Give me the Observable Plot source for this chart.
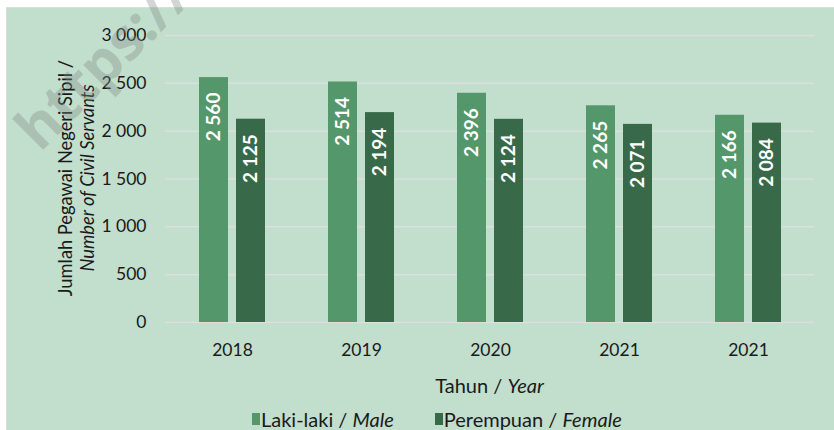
<!DOCTYPE html>
<html>
<head>
<meta charset="utf-8">
<script src="https://cdn.jsdelivr.net/npm/d3@7"></script>
<script src="https://cdn.jsdelivr.net/npm/@observablehq/plot@0.6"></script>
<style>
  html, body { margin: 0; padding: 0; background: #ffffff; }
  #wrap { position: relative; width: 834px; height: 430px; overflow: hidden; font-family: Lato, sans-serif; }
  #bg { position: absolute; left: 6px; top: 7px; right: 0; bottom: 0; background: #c2decd; border-top: 1.5px solid #dcdcdc; border-left: 1.5px solid #dcdcdc; }
  #chart { position: absolute; left: 0; top: 0; }
  #legend { position: absolute; left: 252px; top: 407px; display: flex; align-items: center; font-size: 20px; color: #1a1a1a; white-space: nowrap; }
  .item { display: flex; align-items: center; }
  .sw { width: 8px; height: 12px; margin-right: 1px; }
</style>
</head>
<body>
<div id="wrap">
  <div id="bg"></div>
  <div id="chart"></div>
  <div id="legend"></div>
</div>
<script>
const years = ["2018", "2019", "2020", "2021", "2021"];
const male = [2560, 2514, 2396, 2265, 2166];
const female = [2125, 2194, 2124, 2071, 2084];
const yTicks = [0, 500, 1000, 1500, 2000, 2500, 3000];
const seriesNames = ["Laki-laki / ", "Perempuan / "];
const seriesItalic = ["Male", "Female"];
const colors = ["#53976b", "#386a4a"];

const locale = d3.formatLocale({decimal: ",", thousands: " ", grouping: [3], currency: ["", ""]});
const fmt = locale.format(",d");

const data = years.map((y, i) => ({i, year: y, male: male[i], female: female[i]}));

const plot = Plot.plot({
  width: 834,
  height: 395,
  marginLeft: 165,
  marginRight: 20,
  marginTop: 35,
  marginBottom: 73,
  style: {background: "transparent", fontFamily: "Lato, sans-serif", fontSize: "17.5px", color: "#1a1a1a", overflow: "visible"},
  x: {type: "band", domain: d3.range(years.length), paddingInner: 0.4915, paddingOuter: 0.2458,
      tickFormat: i => years[i], tickSize: 0, tickPadding: 21, label: null},
  y: {domain: [0, 3000], ticks: yTicks, tickFormat: fmt, tickSize: 0, tickPadding: 19, label: null},
  marks: [
    Plot.ruleY(yTicks, {stroke: "#dedede", strokeWidth: 1.5}),
    Plot.barY(data, {x: "i", y: "male", fill: colors[0], insetRight: 37}),
    Plot.barY(data, {x: "i", y: "female", fill: colors[1], insetLeft: 37}),
    Plot.text(data, {x: "i", y: "male", text: d => fmt(d.male), rotate: -90, textAnchor: "end", lineAnchor: "middle",
      dx: -18.5, dy: 15, fill: "white", fontWeight: "bold", fontSize: 19}),
    Plot.text(data, {x: "i", y: "female", text: d => fmt(d.female), rotate: -90, textAnchor: "end", lineAnchor: "middle",
      dx: 18.5, dy: 15, fill: "white", fontWeight: "bold", fontSize: 19})
  ]
});
document.getElementById("chart").appendChild(plot);

const svg = d3.select(plot.tagName.toLowerCase() === "svg" ? plot : plot.querySelector("svg"));

// axis titles with mixed italic
const xt = svg.append("text").attr("x", 489.5).attr("y", 385).attr("text-anchor", "middle")
  .attr("dominant-baseline", "central").attr("font-size", 20).attr("fill", "#1a1a1a");
xt.append("tspan").text("Tahun / ");
xt.append("tspan").attr("font-style", "italic").text("Year");

svg.append("text").attr("transform", "translate(65,178) rotate(-90)").attr("text-anchor", "middle")
  .attr("dominant-baseline", "central").attr("font-size", 18.3).attr("fill", "#1a1a1a").text("Jumlah Pegawai Negeri Sipil /");
svg.append("text").attr("transform", "translate(87,178) rotate(-90)").attr("text-anchor", "middle")
  .attr("dominant-baseline", "central").attr("font-size", 18.3).attr("font-style", "italic").attr("fill", "#1a1a1a").text("Number of Civil Servants");

// watermark
svg.append("text").attr("transform", "translate(40,153) rotate(-45)").attr("text-anchor", "start")
  .attr("font-family", "'Open Sans', sans-serif").attr("font-weight", "bold").attr("font-size", 58)
  .attr("fill", "#7f8a84").attr("fill-opacity", 0.36).text("https://");

// legend
const leg = d3.select("#legend");
seriesNames.forEach((n, k) => {
  const it = leg.append("div").attr("class", "item").style("margin-right", k === 0 ? "41px" : "0px");
  it.append("div").attr("class", "sw").style("background", colors[k]);
  const s = it.append("span");
  s.append("span").text(n);
  s.append("i").text(seriesItalic[k]);
});
</script>
</body>
</html>
